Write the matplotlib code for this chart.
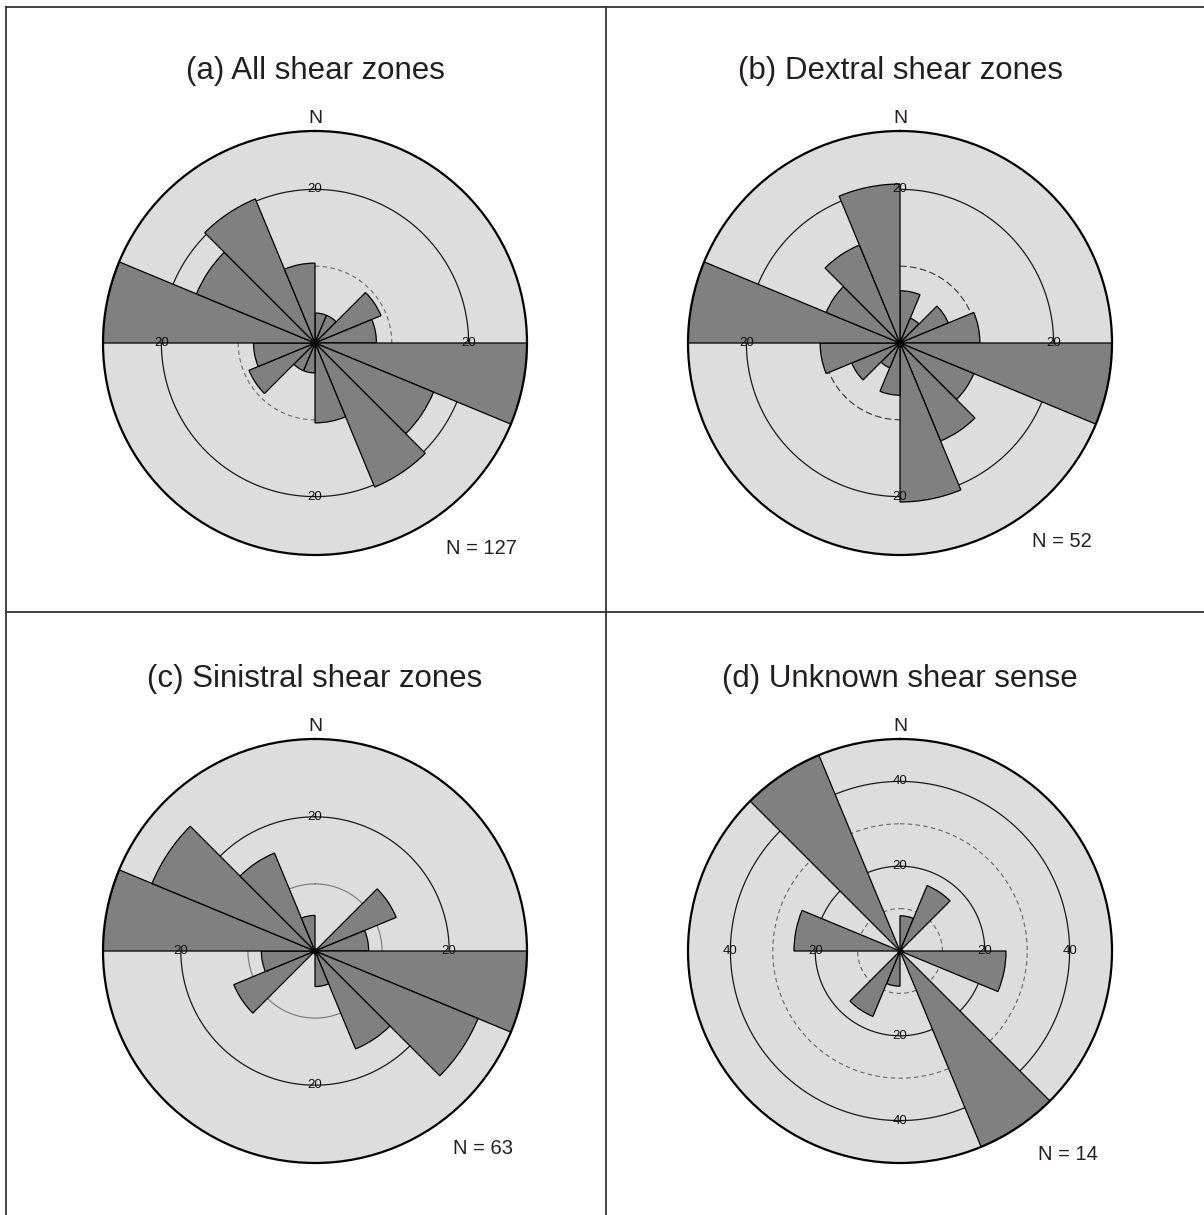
import numpy as np
import matplotlib
matplotlib.use("Agg")
import matplotlib.pyplot as plt
from matplotlib.lines import Line2D

plt.rcParams['font.family'] = ['Liberation Sans', 'DejaVu Sans']

# Percentage of shear zones per 22.5° strike bin (0-180°, clockwise from N);
# the rose is bidirectional, so each bin is mirrored at +180°.
titles = ["(a) All shear zones", "(b) Dextral shear zones",
          "(c) Sinistral shear zones", "(d) Unknown shear sense"]
n_counts = [127, 52, 63, 14]
all_pct = [3.9, 3.9, 9.3, 8.0, 27.6, 16.7, 20.3, 10.4]
dextral_pct = [6.8, 3.5, 6.8, 10.4, 27.6, 10.4, 13.8, 20.7]
sinistral_pct = [0.0, 0.0, 13.1, 8.0, 31.6, 26.3, 15.8, 5.3]
unknown_pct = [8.3, 16.7, 0.0, 0.0, 25.0, 0.0, 50.0, 0.0]

# Reference circles: labelled solid rings, and minor rings
major_rings = [[20], [20], [20], [20, 40]]
minor_rings = [[10], [10], [10], [10, 30]]
minor_styles = [(0, (4, 3)), (0, (6, 3)), '-', (0, (4, 3))]
minor_colors = ['#6a6a6a', '#333333', '#777777', '#666666']

panel_values = [all_pct, dextral_pct, sinistral_pct, unknown_pct]

W, H = 1204, 1215
fig = plt.figure(figsize=(W / 100, H / 100), dpi=100)

centers = [(315, 343), (900, 343), (315, 951), (900, 951)]
radius_px = 212
n_label_pos = [(446, 554), (1032, 547), (453, 1154), (1038, 1160)]

bin_width = np.deg2rad(22.5)
theta_edges = np.arange(16) * bin_width
ring_theta = np.linspace(0, 2 * np.pi, 361)

for i, vals in enumerate(panel_values):
    cx, cy = centers[i]
    rect = [(cx - radius_px) / W, (H - cy - radius_px) / H,
            2 * radius_px / W, 2 * radius_px / H]
    ax = fig.add_axes(rect, projection='polar')
    ax.set_theta_zero_location('N')
    ax.set_theta_direction(-1)
    ax.set_facecolor('#dddddd')
    ax.grid(False)
    ax.set_xticks([])
    ax.set_yticks([])
    ax.spines['polar'].set_linewidth(1.6)
    ax.spines['polar'].set_color('black')

    full = np.array(vals + vals)
    rmax = full.max()

    for r in minor_rings[i]:
        ax.plot(ring_theta, np.full_like(ring_theta, r), ls=minor_styles[i],
                color=minor_colors[i], lw=0.8, zorder=1)
    for r in major_rings[i]:
        ax.plot(ring_theta, np.full_like(ring_theta, r), ls='-',
                color='#1a1a1a', lw=0.9, zorder=1)

    ax.bar(theta_edges, full, width=bin_width, align='edge',
           color='#808080', edgecolor='black', linewidth=0.9, zorder=2)
    ax.plot([0], [0], 'o', color='black', ms=3.5, zorder=4)

    for r in major_rings[i]:
        for ang in [0, 90, 180, 270]:
            ax.text(np.deg2rad(ang), r, str(r), ha='center', va='center',
                    fontsize=9.5, color='#111111', zorder=5)
    ax.set_ylim(0, rmax)

    fig.text(cx / W, 1 - (cy - 264) / H, titles[i], ha='center',
             va='baseline', fontsize=22.5, color='#231f20')
    fig.text(cx / W, 1 - (cy - 220) / H, "N", ha='center', va='baseline',
             fontsize=14, color='#231f20')
    lx, ly = n_label_pos[i]
    fig.text(lx / W, 1 - ly / H, f"N = {n_counts[i]}", ha='left',
             va='baseline', fontsize=14.5, color='#231f20')

# Panel frame lines
frame_color = '#333333'
for (x0, y0, x1, y1) in [(6, 7, W, 7), (6, 7, 6, H), (606, 7, 606, H),
                         (6, 612, W, 612)]:
    fig.add_artist(Line2D([x0 / W, x1 / W], [1 - y0 / H, 1 - y1 / H],
                          color=frame_color, lw=1.3))

fig.savefig("out.png", dpi=100)
